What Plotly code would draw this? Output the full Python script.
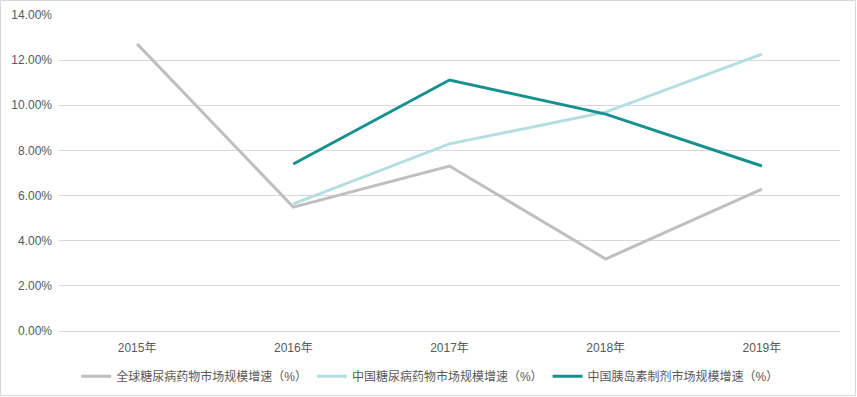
import plotly.graph_objects as go

years = ["2015年", "2016年", "2017年", "2018年", "2019年"]
global_growth = [12.72, 5.49, 7.31, 3.19, 6.29]
china_growth = [None, 5.63, 8.29, 9.70, 12.27]
insulin_growth = [None, 7.40, 11.12, 9.61, 7.31]

names = ["全球糖尿病药物市场规模增速（%）", "中国糖尿病药物市场规模增速（%）", "中国胰岛素制剂市场规模增速（%）"]
colors = ["#BFBFBF", "#B4DFE0", "#17918F"]

FONT = "Arial, Liberation Sans, Noto Sans CJK SC, sans-serif"

fig = go.Figure()
for name, vals, col in zip(names, [global_growth, china_growth, insulin_growth], colors):
    fig.add_trace(go.Scatter(x=years, y=vals, name=name, mode="lines",
                             line=dict(color=col, width=3), connectgaps=False))

W, H = 857, 397
ml, mr, mt, mb = 59, 17, 15, 66
pw, ph = W - ml - mr, H - mt - mb

fig.update_layout(
    width=W, height=H,
    margin=dict(l=ml, r=mr, t=mt, b=mb, autoexpand=False),
    paper_bgcolor="white", plot_bgcolor="white",
    font=dict(family=FONT, size=12, color="#595959"),
    showlegend=True,
    legend=dict(orientation="h", xref="container", x=0.502, xanchor="center",
                yref="container", y=0.052, yanchor="middle",
                font=dict(size=12, color="#595959"), itemwidth=30, tracegroupgap=0),
    xaxis=dict(type="category", range=[-0.5, 4.5], showgrid=False, showline=False,
               ticks="", ticklabelstandoff=8, tickfont=dict(size=12, color="#595959")),
    yaxis=dict(range=[0, 14], dtick=2, tickformat=".2f", ticksuffix="%",
               showgrid=True, gridcolor="#D9D9D9", gridwidth=1,
               zeroline=True, zerolinecolor="#D9D9D9", zerolinewidth=1,
               showline=False, ticks="", ticklabelstandoff=6,
               tickfont=dict(size=12, color="#595959")),
    shapes=[dict(type="rect", xref="paper", yref="paper",
                 x0=(0.5 - ml) / pw, x1=(W - 1.5 - ml) / pw,
                 y0=-(mb - 1.5) / ph, y1=1 + (mt - 0.5) / ph,
                 line=dict(color="#D9D9D9", width=1), fillcolor="rgba(0,0,0,0)", layer="below")],
)

fig.write_html("out.html", config={"displayModeBar": False},
               post_script="document.body.style.margin='0';")
